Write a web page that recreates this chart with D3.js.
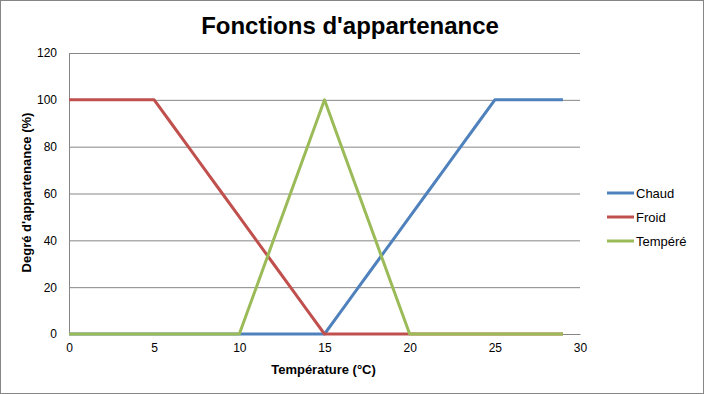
<html>
<head>
    <script src="https://d3js.org/d3.v7.min.js"></script>
    <style>
        body { margin: 0; background: #fff; }
        text { font-family: "Liberation Sans", Arial, sans-serif; fill: #000; }
        .gridlines line { stroke: #868686; }
        .gridlines .domain { stroke: none; }
        .axis .domain { stroke: #868686; }
        .axis line { stroke: none; }
    </style>
</head>
<body>
    <svg height="394" width="704"></svg>
    <script>
        const temps = d3.range(0, 30);
        const chaud = [0, 0, 0, 0, 0, 0, 0, 0, 0, 0, 0, 0, 0, 0, 0, 0, 10, 20, 30, 40, 50, 60, 70, 80, 90, 100, 100, 100, 100, 100];
        const froid = [100, 100, 100, 100, 100, 100, 90, 80, 70, 60, 50, 40, 30, 20, 10, 0, 0, 0, 0, 0, 0, 0, 0, 0, 0, 0, 0, 0, 0, 0];
        const tempere = [0, 0, 0, 0, 0, 0, 0, 0, 0, 0, 0, 20, 40, 60, 80, 100, 80, 60, 40, 20, 0, 0, 0, 0, 0, 0, 0, 0, 0, 0];
        const seriesNames = ["Chaud", "Froid", "Tempéré"];
        const seriesColors = ["#4F81BD", "#C0504D", "#9BBB59"];
        const xTicks = [0, 5, 10, 15, 20, 25, 30];
        const yTicks = [0, 20, 40, 60, 80, 100, 120];

        const svg = d3.select("svg");
        const margins = { top: 53, left: 69 };
        const chartWidth = 511;
        const chartHeight = 281;

        svg.append("rect")
            .attr("x", 0.5).attr("y", 0.5)
            .attr("width", 703).attr("height", 393)
            .attr("fill", "#fff").attr("stroke", "#868686");

        let chartArea = svg.append("g")
            .attr("transform", `translate(${margins.left},${margins.top})`);

        const xScale = d3.scaleLinear().domain([0, 30]).range([0, chartWidth]);
        const yScale = d3.scaleLinear().domain([0, 120]).range([chartHeight, 0]);

        let leftGridLines = d3.axisLeft(yScale).tickValues(yTicks).tickFormat("").tickSize(-chartWidth);
        chartArea.append("g")
            .attr("class", "gridlines")
            .call(leftGridLines);

        let leftAxis = d3.axisLeft(yScale).tickValues(yTicks).tickSize(0).tickPadding(12);
        chartArea.append("g")
            .attr("class", "y axis")
            .call(leftAxis)
            .selectAll("text").style("font-size", "12px");

        let bottomAxis = d3.axisBottom(xScale).tickValues(xTicks).tickSize(0).tickPadding(9);
        chartArea.append("g")
            .attr("class", "x axis")
            .attr("transform", `translate(0,${chartHeight})`)
            .call(bottomAxis)
            .selectAll("text").style("font-size", "12px");

        const allSeries = [chaud, froid, tempere];
        const line = d3.line()
            .x((d, i) => xScale(temps[i]))
            .y(d => yScale(d));

        allSeries.forEach((s, k) => {
            chartArea.append("path")
                .datum(s)
                .attr("d", line)
                .attr("fill", "none")
                .attr("stroke", seriesColors[k])
                .attr("stroke-width", 3)
                .attr("stroke-linejoin", "round");
        });

        // title and axis labels
        svg.append("text")
            .attr("x", 350).attr("y", 34)
            .attr("text-anchor", "middle")
            .style("font-size", "24px").style("font-weight", "bold")
            .text("Fonctions d'appartenance");

        svg.append("text")
            .attr("x", margins.left + chartWidth / 2 - 1).attr("y", 374)
            .attr("text-anchor", "middle")
            .style("font-size", "13px").style("font-weight", "bold")
            .text("Température (°C)");

        svg.append("text")
            .attr("transform", `translate(31,${margins.top + chartHeight / 2 - 1}) rotate(-90)`)
            .attr("text-anchor", "middle")
            .style("font-size", "13px").style("font-weight", "bold")
            .text("Degré d'appartenance (%)");

        // legend
        seriesNames.forEach((name, k) => {
            const ly = 193 + k * 24;
            svg.append("line")
                .attr("x1", 607).attr("x2", 634)
                .attr("y1", ly).attr("y2", ly)
                .attr("stroke", seriesColors[k])
                .attr("stroke-width", 3);
            svg.append("text")
                .attr("x", 636).attr("y", ly + 5)
                .style("font-size", "13px")
                .text(name);
        });
    </script>
</body>
</html>
